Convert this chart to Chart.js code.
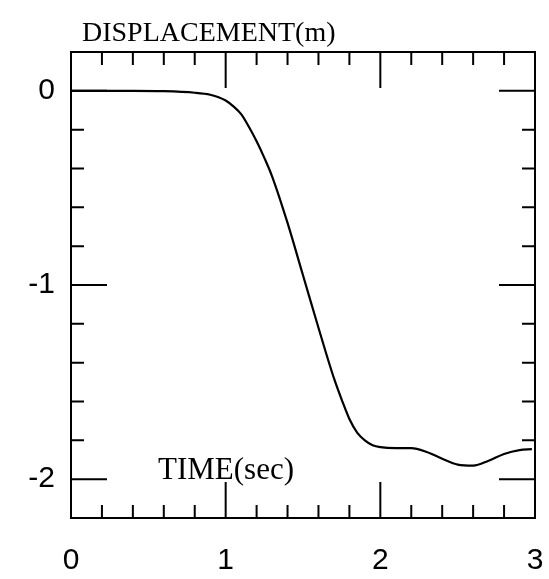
<!DOCTYPE html>
<html>
<head>
<meta charset="utf-8">
<script src="https://cdn.jsdelivr.net/npm/chart.js@4.4.1/dist/chart.umd.min.js"></script>
<style>
  html, body { margin: 0; padding: 0; background: #fff; }
  #wrap { width: 549px; height: 579px; }
</style>
</head>
<body>
<div id="wrap"><canvas id="dispChart" width="549" height="579"></canvas></div>
<script>
// time (sec) and displacement (m)
const timeValues = [0, 0.2, 0.4, 0.6, 0.8, 0.9, 0.95, 1.0, 1.05, 1.1, 1.15, 1.2, 1.25, 1.3, 1.4, 1.5, 1.6, 1.7, 1.75, 1.8, 1.85, 1.9, 1.95, 2.0, 2.1, 2.2, 2.3, 2.4, 2.5, 2.6, 2.7, 2.8, 2.9, 2.98];
const dispValues = [0, 0, 0, -0.002, -0.01, -0.02, -0.032, -0.05, -0.08, -0.12, -0.185, -0.26, -0.345, -0.44, -0.68, -0.95, -1.22, -1.48, -1.59, -1.69, -1.76, -1.80, -1.825, -1.835, -1.84, -1.84, -1.86, -1.895, -1.925, -1.93, -1.905, -1.87, -1.85, -1.845];

const xMajor = [0, 1, 2, 3];
const yMajor = [-2, -1, 0];
const xMinor = [0.2, 0.4, 0.6, 0.8, 1.2, 1.4, 1.6, 1.8, 2.2, 2.4, 2.6, 2.8];
const yMinor = [-2.2, -1.8, -1.6, -1.4, -1.2, -0.8, -0.6, -0.4, -0.2, 0.2];

const yTitle = 'DISPLACEMENT(m)';
const xTitle = 'TIME(sec)';

// frame, inward ticks and the two axis titles
const framePlugin = {
    id: 'frame_and_ticks',
    afterDraw: (chart) => {
        const ctx = chart.ctx;
        const a = chart.chartArea;
        const xs = chart.scales.x;
        const ys = chart.scales.y;
        const bigTick = 36, smallTick = 13;
        ctx.save();
        ctx.strokeStyle = '#000';
        ctx.lineWidth = 2;
        ctx.strokeRect(a.left, a.top, a.right - a.left, a.bottom - a.top);

        ctx.beginPath();
        const xTick = (v, len) => {
            const px = xs.getPixelForValue(v);
            ctx.moveTo(px, a.top); ctx.lineTo(px, a.top + len);
            ctx.moveTo(px, a.bottom); ctx.lineTo(px, a.bottom - len);
        };
        const yTick = (v, len) => {
            const py = ys.getPixelForValue(v);
            ctx.moveTo(a.left, py); ctx.lineTo(a.left + len, py);
            ctx.moveTo(a.right, py); ctx.lineTo(a.right - len, py);
        };
        xMajor.forEach(v => xTick(v, bigTick));
        xMinor.forEach(v => xTick(v, smallTick));
        yMajor.forEach(v => yTick(v, bigTick));
        yMinor.forEach(v => yTick(v, smallTick));
        ctx.stroke();

        ctx.fillStyle = '#000';
        ctx.textAlign = 'left';
        ctx.textBaseline = 'alphabetic';
        ctx.font = '28px "Liberation Serif", serif';
        ctx.fillText(yTitle, 82, 41);
        ctx.font = '31px "Liberation Serif", serif';
        ctx.fillText(xTitle, 158, 479);
        ctx.restore();
    }
};

const ctx = document.getElementById('dispChart').getContext('2d');
const dispChart = new Chart(ctx, {
    type: 'line',
    data: {
        labels: timeValues,
        datasets: [{
            data: timeValues.map((t, i) => ({ x: t, y: dispValues[i] })),
            borderColor: '#000',
            borderWidth: 2.2,
            pointRadius: 0,
            cubicInterpolationMode: 'monotone',
            fill: false
        }]
    },
    options: {
        responsive: false,
        animation: false,
        layout: { padding: { left: 0, right: 14, top: 52, bottom: 0 } },
        plugins: {
            legend: { display: false },
            tooltip: { enabled: false },
            title: { display: false }
        },
        scales: {
            x: {
                type: 'linear',
                min: 0,
                max: 3,
                afterBuildTicks: (s) => { s.ticks = xMajor.map(v => ({ value: v })); },
                afterFit: (s) => { s.height = 61; s.paddingLeft = 0; s.paddingRight = 0; },
                grid: { display: false },
                border: { display: false },
                ticks: {
                    color: '#000',
                    padding: 17,
                    maxRotation: 0,
                    font: { family: '"Liberation Sans", sans-serif', size: 30 }
                }
            },
            y: {
                type: 'linear',
                min: -2.2,
                max: 0.2,
                afterBuildTicks: (s) => { s.ticks = yMajor.map(v => ({ value: v })); },
                afterFit: (s) => { s.width = 71; s.paddingTop = 0; s.paddingBottom = 0; },
                grid: { display: false },
                border: { display: false },
                ticks: {
                    color: '#000',
                    padding: 8,
                    font: { family: '"Liberation Sans", sans-serif', size: 30 }
                }
            }
        }
    },
    plugins: [framePlugin]
});
</script>
</body>
</html>
